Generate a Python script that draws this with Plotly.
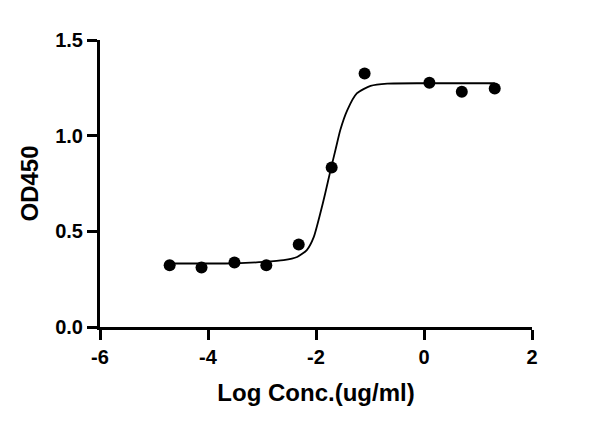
import plotly.graph_objects as go

# measured OD450 points (log concentration, ug/ml)
LOG_CONC = [-4.71, -4.12, -3.51, -2.92, -2.32, -1.71, -1.10, 0.10, 0.70, 1.31]
OD450 = [0.323, 0.311, 0.337, 0.323, 0.431, 0.834, 1.325, 1.276, 1.230, 1.246]

# fitted curve
CURVE_X = [-4.71, -3.50, -2.96, -2.60, -2.35, -2.17, -2.04, -1.92, -1.83,
           -1.73, -1.64, -1.55, -1.42, -1.24, -0.99, -0.68, 0.00, 1.31]
CURVE_Y = [0.332, 0.333, 0.340, 0.349, 0.366, 0.402, 0.471, 0.594, 0.698,
           0.820, 0.925, 1.030, 1.134, 1.222, 1.260, 1.272, 1.274, 1.274]

X_TICKS = [-6, -4, -2, 0, 2]
Y_TICKS = [0.0, 0.5, 1.0, 1.5]
Y_TICK_TEXT = ["0.0", "0.5", "1.0", "1.5"]

FONT = "Liberation Sans, Arial, sans-serif"

fig = go.Figure()
fig.add_trace(go.Scatter(x=CURVE_X, y=CURVE_Y, mode="lines",
                         line=dict(color="#000", width=1.8, shape="spline", smoothing=0.6),
                         hoverinfo="skip"))
fig.add_trace(go.Scatter(x=LOG_CONC, y=OD450, mode="markers",
                         marker=dict(color="#000", size=12)))

axis_common = dict(showgrid=False, zeroline=False, showline=True, linecolor="#000",
                   linewidth=3, ticks="outside", ticklen=10, tickwidth=3,
                   tickcolor="#000",
                   tickfont=dict(family=FONT, size=20, color="#000", weight=700))

fig.update_xaxes(range=[-6, 2], tickvals=X_TICKS, ticktext=[str(t) for t in X_TICKS],
                 title=dict(text="Log Conc.(ug/ml)", standoff=18,
                            font=dict(family=FONT, size=24, color="#000", weight=700)),
                 **axis_common)
fig.update_yaxes(range=[0, 1.5], tickvals=Y_TICKS, ticktext=Y_TICK_TEXT,
                 title=dict(text="OD450", standoff=10,
                            font=dict(family=FONT, size=24, color="#000", weight=700)),
                 **axis_common)

# page body adds an 8px offset, so margins are shifted to keep the plot where it belongs
fig.update_layout(width=600, height=423, showlegend=False,
                  plot_bgcolor="#fff", paper_bgcolor="#fff",
                  margin=dict(l=92, r=76, t=32, b=104))

fig.write_html("out.html")
